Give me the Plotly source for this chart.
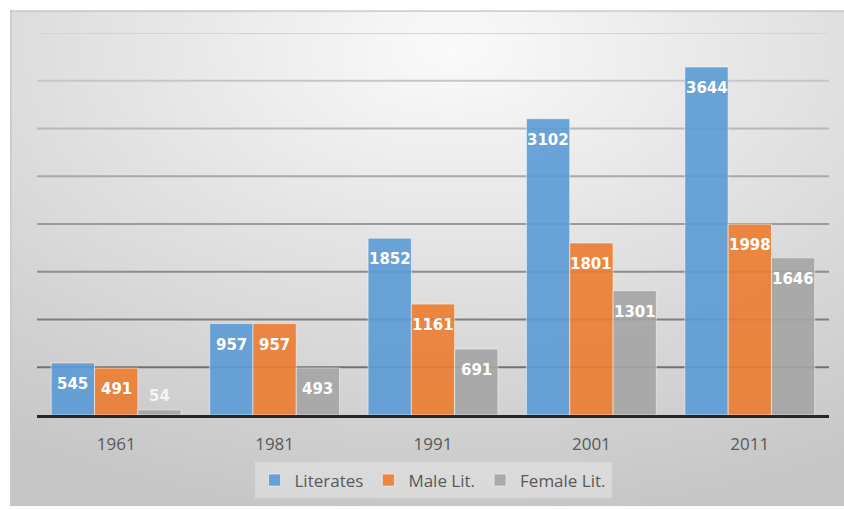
import base64
import plotly.graph_objects as go

# Census literacy figures (in lakhs)
years = ["1961", "1981", "1991", "2001", "2011"]
literates = [545, 957, 1852, 3102, 3644]
male_lit = [491, 957, 1161, 1801, 1998]
female_lit = [54, 493, 691, 1301, 1646]

series_names = ["Literates", "Male Lit.", "Female Lit."]
series_values = [literates, male_lit, female_lit]
series_colors = ["#5B9BD5", "#ED7D31", "#A5A5A5"]

y_ticks = [500, 1000, 1500, 2000, 2500, 3000, 3500, 4000]
y_max = 4000

W, H = 844, 510
M_L, M_R, M_T, M_B = 37, 15, 33, 92
BARGAP = 0.18

fig = go.Figure()
x_idx = list(range(len(years)))
for name, vals, col in zip(series_names, series_values, series_colors):
    fig.add_trace(go.Bar(
        x=x_idx, y=vals, name=name,
        marker=dict(color=col, line=dict(color="rgba(255,255,255,0.55)", width=1)),
        opacity=0.9,
        hoverinfo="x+y",
    ))

# Value labels just inside the top of each bar (outside for very short bars)
bar_w = (1 - BARGAP) / len(series_names)
annotations = []
for k, vals in enumerate(series_values):
    off = (k - (len(series_names) - 1) / 2) * bar_w
    for i, v in enumerate(vals):
        inside = v >= 300
        annotations.append(dict(
            x=i + off, y=v, xref="x", yref="y",
            text=str(v), showarrow=False,
            yanchor="middle", xanchor="center",
            yshift=-21 if inside else 14,
            font=dict(family="DejaVu Sans", size=15, color="#FFFFFF" if inside else "#F4F4F4",
                      weight="bold"),
        ))

# Gridlines, darkening towards the baseline
shapes = []
for t in y_ticks:
    frac = (t - y_ticks[0]) / (y_ticks[-1] - y_ticks[0])
    g = int(round(112 + (212 - 112) * frac))
    shapes.append(dict(
        type="line", xref="paper", yref="y", x0=0, x1=1, y0=t, y1=t,
        line=dict(color=f"rgb({g},{g},{g})", width=2), layer="below",
    ))

# Soft radial gradient panel behind the chart
svg = (
    '<svg xmlns="http://www.w3.org/2000/svg" width="834" height="500" viewBox="0 0 834 500" '
    'preserveAspectRatio="none">'
    '<defs><radialGradient id="g" cx="0.53" cy="0.08" r="0.95" fx="0.53" fy="0.08">'
    '<stop offset="0" stop-color="#FAFAFA"/>'
    '<stop offset="0.45" stop-color="#E2E2E2"/>'
    '<stop offset="1" stop-color="#C6C6C6"/>'
    '</radialGradient></defs>'
    '<rect x="0" y="0" width="834" height="500" fill="url(#g)"/>'
    '<line x1="0" y1="0.75" x2="834" y2="0.75" stroke="#C4C4C4" stroke-width="1.5"/>'
    '<line x1="0.75" y1="0" x2="0.75" y2="500" stroke="#C8C8C8" stroke-width="1.5"/>'
    '</svg>'
)
svg_uri = "data:image/svg+xml;base64," + base64.b64encode(svg.encode()).decode()

plot_w = W - M_L - M_R
plot_h = H - M_T - M_B
panel_x0, panel_y0 = 10, 10
fig.add_layout_image(dict(
    source=svg_uri, xref="paper", yref="paper",
    x=(panel_x0 - M_L) / plot_w, y=(H - M_B - panel_y0) / plot_h,
    sizex=(W - panel_x0) / plot_w, sizey=(H - panel_y0) / plot_h,
    xanchor="left", yanchor="top", sizing="stretch", layer="below",
))

fig.update_layout(
    width=W, height=H,
    margin=dict(l=M_L, r=M_R, t=M_T, b=M_B),
    paper_bgcolor="#FFFFFF", plot_bgcolor="rgba(0,0,0,0)",
    barmode="group", bargap=BARGAP, bargroupgap=0,
    annotations=annotations, shapes=shapes,
    showlegend=True,
    legend=dict(
        orientation="h", x=0.5, xanchor="center", y=(H - M_B - 484) / plot_h, yanchor="middle",
        yref="paper",
        bgcolor="rgba(255,255,255,0.3)", borderwidth=0,
        font=dict(family="Open Sans", size=17, color="#595959"),
        itemwidth=30, traceorder="normal",
    ),
    xaxis=dict(
        range=[-0.5, len(years) - 0.5], tickvals=x_idx, ticktext=years,
        showgrid=False, zeroline=False, showline=True, linecolor="#262626", linewidth=2.5,
        ticks="", ticklabelstandoff=12,
        tickfont=dict(family="Open Sans", size=17, color="#595959"),
        fixedrange=True,
    ),
    yaxis=dict(
        range=[0, y_max], showgrid=False, zeroline=False, showticklabels=False,
        showline=False, fixedrange=True,
    ),
)

fig.write_html("out.html")
